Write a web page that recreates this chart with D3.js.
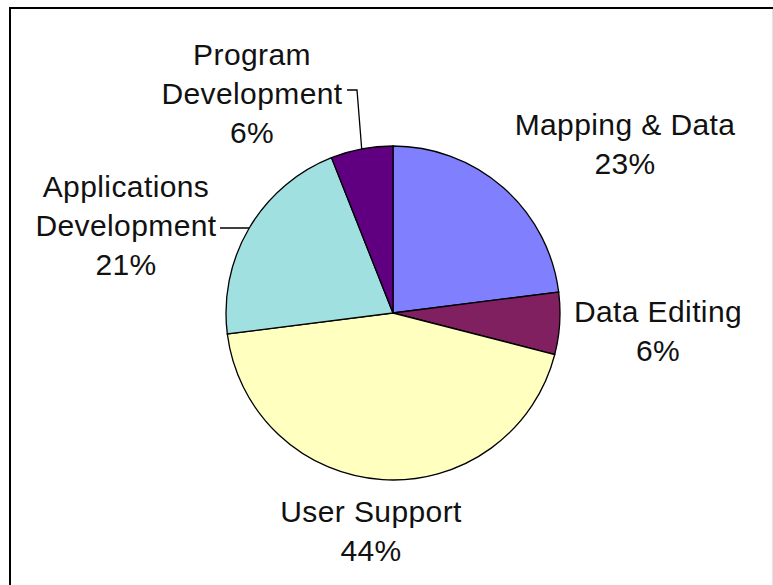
<!DOCTYPE html>
<html>
<head>
<meta charset="utf-8">
<script src="https://cdn.jsdelivr.net/npm/d3@7"></script>
<style>
  body { margin: 0; background: #fff; }
  svg { display: block; }
  text { font-family: "Liberation Sans", Arial, sans-serif; font-size: 30px; fill: #111; letter-spacing: 0.4px; }
</style>
</head>
<body>
<svg id="chart"></svg>
<script>
// data
var categories = ["Mapping & Data", "Data Editing", "User Support", "Applications Development", "Program Development"]
var values = [23, 6, 44, 21, 6]
var labelLines = [
    ["Mapping & Data", "23%"],
    ["Data Editing", "6%"],
    ["User Support", "44%"],
    ["Applications", "Development", "21%"],
    ["Program", "Development", "6%"]
]
var colors = ["#8080FF", "#802060", "#FFFFC0", "#A0E0E0", "#600080"]

// layout (label anchors: centre x, baseline of first line)
var labelAnchor = [[625, 135], [658, 322], [371, 522], [126, 197], [252, 65]]
var leaderStart = [null, null, null, [220, 228, 233], [347, 90, 357]]

var width = 773, height = 585
var cx = 393, cy = 313, radius = 167
var lineHeight = 39

var svg = d3.select("#chart")
    .attr("width", width)
    .attr("height", height)

// frame
svg.append("line")
    .attr("x1", 9).attr("x2", width).attr("y1", 8).attr("y2", 8)
    .attr("stroke", "#000").attr("stroke-width", 2)
svg.append("line")
    .attr("x1", 10).attr("x2", 10).attr("y1", 7).attr("y2", height)
    .attr("stroke", "#000").attr("stroke-width", 2)
svg.append("line")
    .attr("x1", width - 0.5).attr("x2", width - 0.5).attr("y1", 9).attr("y2", height)
    .attr("stroke", "#e4e4e4").attr("stroke-width", 1)

var pieData = d3.pie().sort(null)(values)

var arc = d3.arc().innerRadius(0).outerRadius(radius)
var edgeArc = d3.arc().innerRadius(radius).outerRadius(radius)

var g = svg.append("g")
    .attr("transform", "translate(" + cx + "," + cy + ")")

g.selectAll("path")
    .data(pieData)
    .enter()
    .append("path")
    .attr("d", arc)
    .attr("fill", (d, i) => colors[i])
    .attr("stroke", "#000")
    .attr("stroke-width", 1.3)

// leader lines
pieData.forEach((d, i) => {
    var s = leaderStart[i]
    if (!s) return
    var c = edgeArc.centroid(d)
    var pts = [[s[0], s[1]], [s[2], s[1]], [c[0] + cx, c[1] + cy]]
    svg.append("path")
        .attr("d", d3.line()(pts))
        .attr("fill", "none")
        .attr("stroke", "#000")
        .attr("stroke-width", 1.3)
})

// labels
labelLines.forEach((lines, i) => {
    var t = svg.append("text")
        .attr("text-anchor", "middle")
        .attr("x", labelAnchor[i][0])
        .attr("y", labelAnchor[i][1])
    lines.forEach((ln, j) => {
        t.append("tspan")
            .attr("x", labelAnchor[i][0])
            .attr("y", labelAnchor[i][1] + j * lineHeight)
            .text(ln)
    })
})
</script>
</body>
</html>
